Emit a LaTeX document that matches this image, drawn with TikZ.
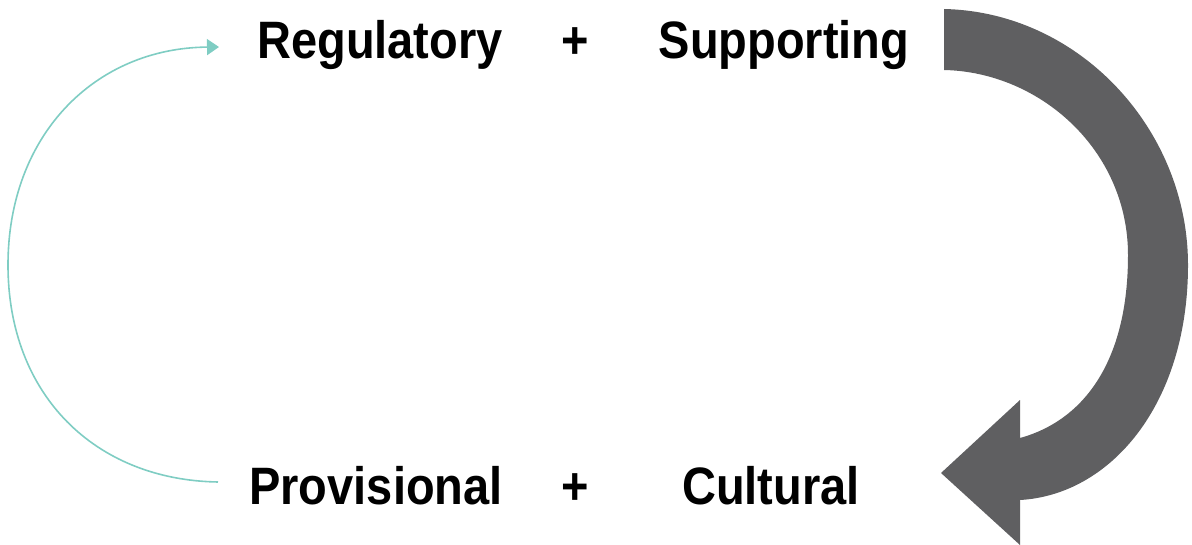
\documentclass[tikz,border=0pt]{standalone}
\usepackage{fontspec}
\setmainfont{Liberation Sans}
\usetikzlibrary{arrows.meta}
\definecolor{teal1}{HTML}{7FCDC3}
\definecolor{grey1}{HTML}{5F5F61}
\newcommand{\tallbold}[1]{\scalebox{1}[1.12]{#1}}
\tikzset{
  label/.style={font=\fontsize{47}{50}\selectfont\bfseries, anchor=base, inner sep=0pt},
  loop/.style={draw=teal1, line width=1.6pt, -{Triangle[length=12pt,width=16pt]}},
}
\begin{document}
\begin{tikzpicture}[x=1pt,y=-1pt]
\useasboundingbox (0,0) rectangle (1192,545);
\node[label] (reg) at (380,59) {\tallbold{Regulatory}};
\node[label] (plusA) at (575,59) {\tallbold{+}};
\node[label] (sup) at (784,59) {\tallbold{Supporting}};
\node[label] (prov) at (376,504) {\tallbold{Provisional}};
\node[label] (plusB) at (575,504) {\tallbold{+}};
\node[label] (cult) at (771,504) {\tallbold{Cultural}};
\coordinate (loopstart) at (218,482);
\coordinate (loopend) at (219,47);
\draw[loop] (loopstart) .. controls (95,480) and (8,395) .. (8,265)
  .. controls (8,135) and (95,48) .. (loopend);
\fill[grey1] (944,9) .. controls (1080,12) and (1188,130) .. (1188,265)
  .. controls (1188,405) and (1110,495) .. (1020,500)
  -- (1020,545) -- (941,473) -- (1020,400) -- (1020,438)
  .. controls (1085,420) and (1128,360) .. (1128,255)
  .. controls (1128,150) and (1040,72) .. (944,70) -- cycle;
\end{tikzpicture}
\end{document}
